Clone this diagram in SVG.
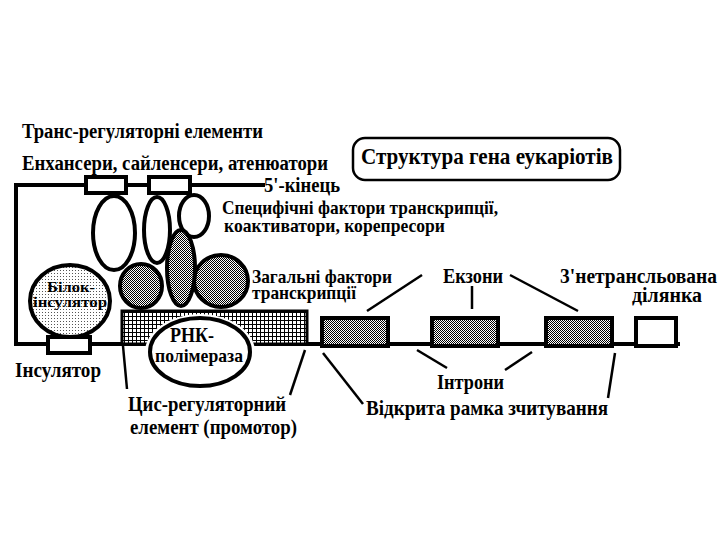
<svg xmlns="http://www.w3.org/2000/svg" width="720" height="540" viewBox="0 0 720 540">
<defs>
<pattern id="dark" width="2" height="2" patternUnits="userSpaceOnUse"><rect width="2" height="2" fill="#fff"/><rect width="1" height="1" fill="#000"/><rect x="1" y="1" width="1" height="1" fill="#000"/></pattern>
<pattern id="light" width="3" height="3" patternUnits="userSpaceOnUse"><rect width="3" height="3" fill="#fff"/><rect width="1" height="1" fill="#555"/></pattern>
<pattern id="grid" width="4" height="4" patternUnits="userSpaceOnUse"><rect width="4" height="4" fill="#000"/><rect x="1" y="1" width="3" height="3" fill="#fff"/></pattern>
<style>
text{font-family:"Liberation Serif","DejaVu Serif",serif;font-weight:bold;fill:#000}
.ln{stroke:#000;stroke-width:2.5;fill:none}
.thick{stroke:#000;stroke-width:4;fill:none}
.box{fill:#fff;stroke:#000;stroke-width:4}
.ex{fill:url(#dark);stroke:#000;stroke-width:4}
.sh{fill:url(#dark);stroke:#000;stroke-width:4}
.wh{fill:#fff;stroke:#000;stroke-width:4}
</style>
</defs>
<rect width="720" height="540" fill="#fff"/>

<g id="labels">
<text x="22" y="138" font-size="20" textLength="241" lengthAdjust="spacingAndGlyphs">Транс-регуляторні елементи</text>
<text x="22" y="170" font-size="20" textLength="306" lengthAdjust="spacingAndGlyphs">Енхансери, сайленсери, атенюатори</text>
<text x="264" y="192" font-size="20" textLength="76" lengthAdjust="spacingAndGlyphs">5'-кінець</text>
<text x="222" y="214" font-size="19" textLength="276" lengthAdjust="spacingAndGlyphs">Специфічні фактори транскрипції,</text>
<text x="224" y="232" font-size="19" textLength="221" lengthAdjust="spacingAndGlyphs">коактиватори, корепресори</text>
<text x="252" y="283" font-size="19" textLength="140" lengthAdjust="spacingAndGlyphs">Загальні фактори</text>
<text x="252" y="299" font-size="19" textLength="104" lengthAdjust="spacingAndGlyphs">транскрипції</text>
<text x="443" y="283" font-size="20" textLength="60" lengthAdjust="spacingAndGlyphs">Екзони</text>
<text x="560" y="283" font-size="20" textLength="157" lengthAdjust="spacingAndGlyphs">3'нетрансльована</text>
<text x="632" y="302" font-size="20" textLength="70" lengthAdjust="spacingAndGlyphs">ділянка</text>
<text x="15" y="377" font-size="21" textLength="86" lengthAdjust="spacingAndGlyphs">Інсулятор</text>
<text x="128" y="411" font-size="21" textLength="158" lengthAdjust="spacingAndGlyphs">Цис-регуляторний</text>
<text x="130" y="434" font-size="21" textLength="167" lengthAdjust="spacingAndGlyphs">елемент (промотор)</text>
<text x="437" y="389" font-size="21" textLength="67" lengthAdjust="spacingAndGlyphs">Інтрони</text>
<text x="366" y="415" font-size="21" textLength="242" lengthAdjust="spacingAndGlyphs">Відкрита рамка зчитування</text>
</g>

<g id="title">
<rect x="353" y="138" width="267" height="42" rx="12" fill="#fff" stroke="#000" stroke-width="2.5"/>
<text x="361" y="164" font-size="24" textLength="252" lengthAdjust="spacingAndGlyphs">Структура гена еукаріотів</text>
</g>

<g id="dna">
<polyline class="thick" points="265,185 16,185 16,344 680,344"/>
</g>

<g id="promoter">
<rect x="122" y="311" width="185" height="33" fill="url(#grid)" stroke="#000" stroke-width="3"/>
</g>

<g id="enhancer1"><rect class="box" x="86" y="177" width="40" height="16"/></g>
<g id="enhancer2"><rect class="box" x="149" y="177" width="41" height="16"/></g>
<g id="insulator"><rect class="box" x="48" y="337" width="42" height="16"/></g>

<g id="factor1"><ellipse class="wh" cx="114" cy="233" rx="21" ry="37"/></g>
<g id="factor2"><ellipse class="wh" cx="157" cy="230" rx="13" ry="33"/></g>
<g id="factor3"><ellipse class="wh" cx="194" cy="216" rx="15" ry="21"/></g>
<g id="gtf-left"><ellipse class="sh" cx="141" cy="286" rx="21" ry="22"/></g>
<g id="gtf-right"><ellipse class="sh" cx="221" cy="281" rx="27" ry="26"/></g>
<g id="gtf-tall"><ellipse class="sh" cx="181" cy="268" rx="14" ry="38"/></g>

<g id="block-insulator">
<ellipse cx="70" cy="301" rx="40" ry="36" fill="url(#light)" stroke="#000" stroke-width="4"/>
<text x="47" y="292" font-size="15" textLength="48" lengthAdjust="spacingAndGlyphs">Білок-</text>
<text x="33" y="307" font-size="15" textLength="74" lengthAdjust="spacingAndGlyphs">інсулятор</text>
</g>

<g id="rna-polymerase">
<ellipse cx="200" cy="352" rx="55" ry="38" fill="#fff"/>
<ellipse class="wh" cx="200" cy="352" rx="50" ry="34"/>
<text x="170" y="342" font-size="20" textLength="44" lengthAdjust="spacingAndGlyphs">РНК-</text>
<text x="155" y="362" font-size="19" textLength="88" lengthAdjust="spacingAndGlyphs">полімераза</text>
</g>

<g id="exon1"><rect class="ex" x="322" y="318" width="66" height="28"/></g>
<g id="exon2"><rect class="ex" x="432" y="318" width="66" height="28"/></g>
<g id="exon3"><rect class="ex" x="546" y="318" width="66" height="28"/></g>
<g id="utr3"><rect class="box" x="636" y="318" width="40" height="28"/></g>

<g id="connectors">
<line class="ln" x1="422" y1="275" x2="367" y2="311"/>
<line class="ln" x1="472" y1="286" x2="472" y2="309"/>
<line class="ln" x1="510" y1="275" x2="578" y2="311"/>
<line class="ln" x1="417" y1="350" x2="447" y2="368"/>
<line class="ln" x1="532" y1="352" x2="505" y2="370"/>
<line class="ln" x1="323" y1="353" x2="363" y2="404"/>
<line class="ln" x1="615" y1="353" x2="608" y2="398"/>
<line class="ln" x1="123" y1="346" x2="127" y2="389"/>
<line class="ln" x1="305" y1="350" x2="290" y2="395"/>
</g>
</svg>
